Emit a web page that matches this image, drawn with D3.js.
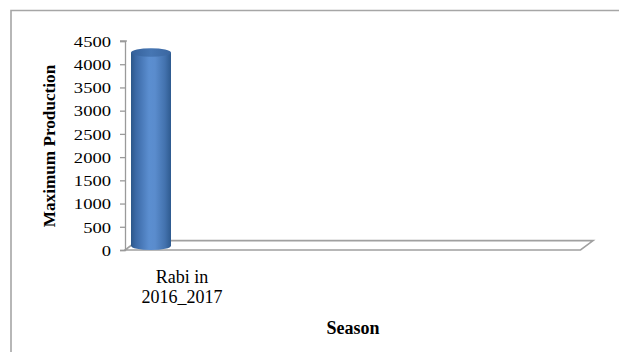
<!DOCTYPE html>
<html>
<head>
<meta charset="utf-8">
<script src="https://cdn.jsdelivr.net/npm/d3@7"></script>
<style>
  html, body { margin: 0; padding: 0; background: #fff; }
  svg { display: block; }
  text { font-family: "Liberation Serif", "Times New Roman", serif; fill: #000; }
</style>
</head>
<body>
<svg id="chart" width="619" height="352"></svg>
<script>
// Production per season
const categories = ["Rabi in 2016_2017"];
const values = [4160];
const yTicks = [0, 500, 1000, 1500, 2000, 2500, 3000, 3500, 4000, 4500];
const yTitle = "Maximum Production";
const xTitle = "Season";

const svg = d3.select("#chart");

// outer chart frame (open on the right and bottom)
svg.append("path")
  .attr("d", "M619,10.5 H11 V352")
  .attr("fill", "none")
  .attr("stroke", "#a6a6a6")
  .attr("stroke-width", 1.6);

const y = d3.scaleLinear().domain([0, 4500]).range([250, 41]);
const x = d3.scaleBand().domain(categories).range([125, 239]).paddingInner(0);

// floor of the 3-D plot
const depth = { dx: 12.6, dy: -9.4 };
const floorLeft = 125, floorRight = 580.5;
const y0 = y(0);
svg.append("path")
  .attr("d", `M${floorLeft},${y0} H${floorRight} l${depth.dx},${depth.dy} H${floorLeft + depth.dx} Z`)
  .attr("fill", "none")
  .attr("stroke", "#a0a0a0")
  .attr("stroke-width", 1.6);

// value axis
const axis = d3.axisLeft(y).tickValues(yTicks).tickSize(5).tickPadding(9).tickFormat(d3.format("d"));
const gA = svg.append("g").attr("transform", "translate(125,0)").call(axis);
gA.select(".domain").attr("stroke", "#9a9a9a").attr("stroke-width", 1.3);
gA.selectAll(".tick line").attr("stroke", "#9a9a9a").attr("stroke-width", 1.3);
gA.selectAll(".tick text")
  .attr("font-family", "Liberation Serif, Times New Roman, serif")
  .attr("font-size", 15)
  .attr("fill", "#000")
  .attr("dy", "0.35em")
  .attr("x", 0)
  .attr("transform", "translate(-14,0) scale(1.24,1)");
// short top cap of the axis
svg.append("line").attr("x1", 120).attr("x2", 127).attr("y1", y(4500)).attr("y2", y(4500))
  .attr("stroke", "#9a9a9a").attr("stroke-width", 1.3);

// cylinder gradients
const defs = svg.append("defs");
const bodyGrad = defs.append("linearGradient").attr("id", "cylBody").attr("x1", 0).attr("x2", 1).attr("y1", 0).attr("y2", 0);
[[0, "#2c5789"], [0.12, "#3b69a6"], [0.45, "#5b8ed0"], [0.6, "#5a8ccd"], [0.85, "#4372ae"], [1, "#2e5a8f"]]
  .forEach(([o, c]) => bodyGrad.append("stop").attr("offset", o).attr("stop-color", c));
const capGrad = defs.append("linearGradient").attr("id", "cylTop").attr("x1", 0).attr("x2", 1).attr("y1", 0).attr("y2", 0);
[[0, "#34609a"], [0.5, "#4676b3"], [1, "#3a66a0"]]
  .forEach(([o, c]) => capGrad.append("stop").attr("offset", o).attr("stop-color", c));

const cylW = 40, ry = 4.3;
const bars = svg.append("g").selectAll("g").data(categories.map((c, i) => ({ c, v: values[i] }))).join("g");
bars.each(function(d) {
  const g = d3.select(this);
  const cx = x(d.c) + 6 + cylW / 2;
  const rx = cylW / 2;
  const yb = y(0) - ry;          // centre of base ellipse
  const yt = y(d.v) - ry;        // centre of top ellipse
  g.append("path")
    .attr("d", `M${cx - rx},${yt} V${yb} A${rx},${ry} 0 0 0 ${cx + rx},${yb} V${yt} Z`)
    .attr("fill", "url(#cylBody)");
  g.append("ellipse")
    .attr("cx", cx).attr("cy", yt).attr("rx", rx).attr("ry", ry)
    .attr("fill", "url(#cylTop)");
});

// category labels
const lab = svg.append("g").selectAll("text").data(categories).join("text")
  .attr("text-anchor", "middle")
  .attr("font-size", 18)
  .attr("x", d => x(d) + x.bandwidth() / 2);
lab.each(function(d) {
  const parts = d.split(" in ");
  const t = d3.select(this);
  t.append("tspan").attr("x", x(d) + x.bandwidth() / 2).attr("y", 283).text(parts[0] + " in");
  t.append("tspan").attr("x", x(d) + x.bandwidth() / 2).attr("y", 303).text(parts[1]);
});

// axis titles
svg.append("text")
  .attr("text-anchor", "middle")
  .attr("font-size", 18)
  .attr("font-weight", "bold")
  .attr("x", 353).attr("y", 334)
  .text(xTitle);

svg.append("text")
  .attr("text-anchor", "middle")
  .attr("font-size", 17.2)
  .attr("font-weight", "bold")
  .attr("transform", "translate(55,146) rotate(-90)")
  .text(yTitle);
</script>
</body>
</html>
